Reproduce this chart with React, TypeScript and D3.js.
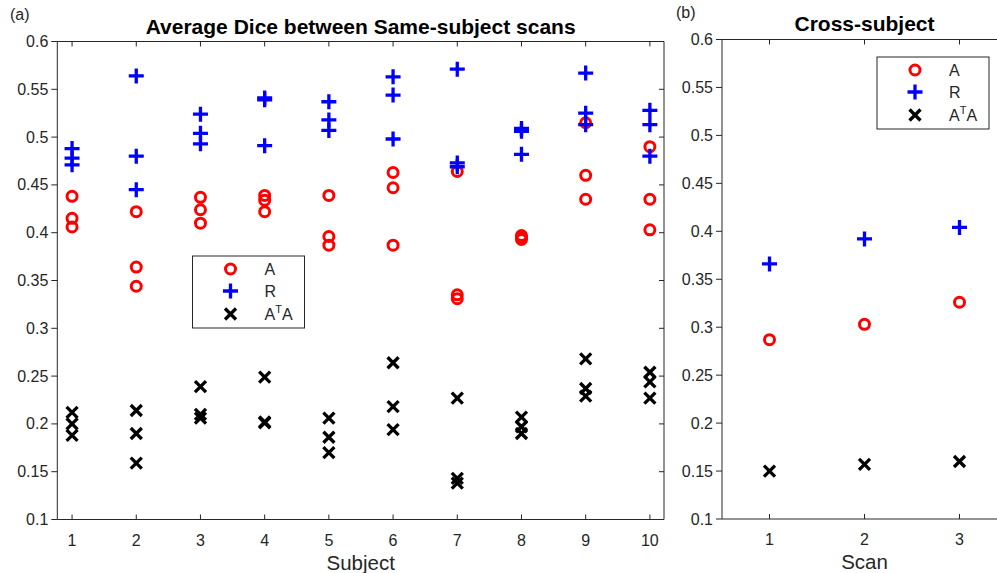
import React from 'react';
import * as d3 from 'd3';

// values (three scan pairs per subject)
const subjects = [1, 2, 3, 4, 5, 6, 7, 8, 9, 10];
const sameA = [
  [0.438, 0.415, 0.406],
  [0.422, 0.364, 0.344],
  [0.437, 0.424, 0.410],
  [0.439, 0.434, 0.422],
  [0.439, 0.396, 0.387],
  [0.463, 0.447, 0.387],
  [0.464, 0.335, 0.331],
  [0.397, 0.395, 0.393],
  [0.515, 0.460, 0.435],
  [0.490, 0.435, 0.403],
];
const sameR = [
  [0.488, 0.478, 0.471],
  [0.564, 0.480, 0.445],
  [0.524, 0.504, 0.493],
  [0.541, 0.539, 0.491],
  [0.537, 0.518, 0.507],
  [0.563, 0.544, 0.498],
  [0.571, 0.473, 0.469],
  [0.509, 0.506, 0.482],
  [0.567, 0.525, 0.513],
  [0.528, 0.513, 0.480],
];
const sameATA = [
  [0.212, 0.200, 0.188],
  [0.214, 0.190, 0.159],
  [0.239, 0.210, 0.206],
  [0.249, 0.202, 0.201],
  [0.206, 0.186, 0.170],
  [0.264, 0.218, 0.194],
  [0.227, 0.143, 0.138],
  [0.207, 0.197, 0.190],
  [0.268, 0.237, 0.229],
  [0.254, 0.244, 0.227],
];

const scans = [1, 2, 3];
const crossA = [0.287, 0.303, 0.326];
const crossR = [0.366, 0.392, 0.404];
const crossATA = [0.150, 0.157, 0.160];

const yTicks = [0.1, 0.15, 0.2, 0.25, 0.3, 0.35, 0.4, 0.45, 0.5, 0.55, 0.6];

const axisColor = '#262626';
const font = 'Liberation Sans, Arial, sans-serif';

const Marker = ({ kind, x, y }: { kind: string; x: number; y: number }) => {
  if (kind === 'A') {
    return <circle cx={x} cy={y} r={5} fill="none" stroke="#ff0000" strokeWidth={3} />;
  }
  if (kind === 'R') {
    const h = 7.5;
    return (
      <path d={`M${x - h},${y}H${x + h}M${x},${y - h}V${y + h}`} stroke="#0000ff" strokeWidth={3.3} />
    );
  }
  const h = 5.5;
  return (
    <path d={`M${x - h},${y - h}L${x + h},${y + h}M${x - h},${y + h}L${x + h},${y - h}`} stroke="#000" strokeWidth={3.3} />
  );
};

const Legend = ({ x, y }: { x: number; y: number }) => {
  const rows = [
    { kind: 'A', dy: 13 },
    { kind: 'R', dy: 35 },
    { kind: 'ATA', dy: 58 },
  ];
  return (
    <g transform={`translate(${x},${y})`}>
      <rect x={0} y={0} width={112} height={72} fill="#fff" stroke={axisColor} strokeWidth={1} />
      {rows.map(r => (
        <g key={r.kind}>
          <Marker kind={r.kind} x={38} y={r.dy} />
          <text x={72} y={r.dy + 6} fontSize={16} fill={axisColor} fontFamily={font}>
            {r.kind === 'ATA' ? (
              <>
                A<tspan fontSize={11} dy={-7}>T</tspan>
                <tspan dy={7}>A</tspan>
              </>
            ) : r.kind}
          </text>
        </g>
      ))}
    </g>
  );
};

const Frame = ({ x, y, xTicks, xLabel }: any) => {
  const [x0, x1] = x.range();
  const [y0, y1] = y.range();
  return (
    <g>
      <path d={`M${x0},${y1}V${y0}H${x1}V${y1}Z`} fill="none" stroke={axisColor} strokeWidth={1} />
      {xTicks.map((t: number) => (
        <g key={'x' + t}>
          <line x1={x(t)} x2={x(t)} y1={y0} y2={y0 - 5} stroke={axisColor} />
          <line x1={x(t)} x2={x(t)} y1={y1} y2={y1 + 5} stroke={axisColor} />
          <text x={x(t)} y={y0 + 26} textAnchor="middle" fontSize={16} fill={axisColor} fontFamily={font}>{t}</text>
        </g>
      ))}
      {yTicks.map(t => (
        <g key={'y' + t}>
          <line x1={x0 - 6} x2={x0} y1={y(t)} y2={y(t)} stroke={axisColor} />
          <line x1={x1 - 5} x2={x1} y1={y(t)} y2={y(t)} stroke={axisColor} />
          <text x={x0 - 9} y={y(t) + 5.5} textAnchor="end" fontSize={16} fill={axisColor} fontFamily={font}>{d3.format('')(+t.toFixed(2))}</text>
        </g>
      ))}
      <text x={(x0 + x1) / 2} y={y0 + 50} textAnchor="middle" fontSize={20.5} fill={axisColor} fontFamily={font}>{xLabel}</text>
    </g>
  );
};

const App = () => {
  const xL = d3.scaleLinear().domain([0.77, 10.22]).range([57.3, 664]);
  const yL = d3.scaleLinear().domain([0.1, 0.6]).range([519.5, 41.5]);
  const xR = d3.scaleLinear().domain([0.5, 3.5]).range([722, 1007]);
  const yR = d3.scaleLinear().domain([0.1, 0.6]).range([519, 39.5]);

  const series = [
    { kind: 'A', vals: sameA },
    { kind: 'R', vals: sameR },
    { kind: 'ATA', vals: sameATA },
  ];
  const cross = [
    { kind: 'A', vals: crossA },
    { kind: 'R', vals: crossR },
    { kind: 'ATA', vals: crossATA },
  ];

  return (
    <>
      <style>{'body{margin:0}'}</style>
      <svg width={997} height={573} style={{ display: 'block', background: '#fff' }}>
        {/* (a) same-subject */}
        <text x={10} y={20} fontSize={16} fill={axisColor} fontFamily={font}>(a)</text>
        <text x={(57.3 + 664) / 2} y={34} textAnchor="middle" fontSize={21} fontWeight="bold" fill="#000" fontFamily={font}>
          Average Dice between Same-subject scans
        </text>
        <Frame x={xL} y={yL} xTicks={subjects} xLabel="Subject" />
        {series.map(s => (
          <g key={s.kind}>
            {s.vals.map((vs, i) => vs.map((v, j) => (
              <Marker key={i + '-' + j} kind={s.kind} x={xL(subjects[i])} y={yL(v)} />
            )))}
          </g>
        ))}
        <Legend x={192.5} y={256} />

        {/* (b) cross-subject */}
        <text x={676} y={18} fontSize={16} fill={axisColor} fontFamily={font}>(b)</text>
        <text x={864.5} y={31} textAnchor="middle" fontSize={21} fontWeight="bold" fill="#000" fontFamily={font}>
          Cross-subject
        </text>
        <Frame x={xR} y={yR} xTicks={scans} xLabel="Scan" />
        {cross.map(s => (
          <g key={s.kind}>
            {s.vals.map((v, i) => (
              <Marker key={i} kind={s.kind} x={xR(scans[i])} y={yR(v)} />
            ))}
          </g>
        ))}
        <Legend x={877} y={57} />
      </svg>
    </>
  );
};

export default App;
